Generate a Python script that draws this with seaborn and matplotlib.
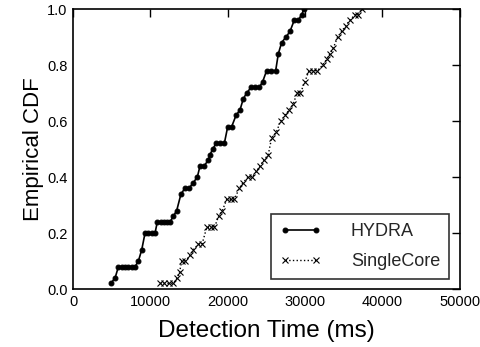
import matplotlib
matplotlib.use("Agg")
import matplotlib.pyplot as plt
import seaborn as sns
import pandas as pd

# detection times (ms) and empirical CDF values
hydra_time = [4870, 5430, 5860, 6290, 6720, 7150, 7580, 8010, 8440, 8870,
              9300, 9730, 10160, 10590, 10890, 11300, 11700, 12100, 12530, 12960,
              13390, 13950, 14470, 14990, 15540, 16060, 16410, 16930, 17480, 17700,
              18050, 18480, 19000, 19550, 19990, 20500, 21060, 21580, 22010, 22440,
              23000, 23510, 24070, 24500, 25020, 25580, 26190, 26530, 26960, 27520,
              28040, 28590, 29110, 29550, 29850]
hydra_cdf = [0.02, 0.04, 0.08, 0.08, 0.08, 0.08, 0.08, 0.08, 0.10, 0.14,
             0.20, 0.20, 0.20, 0.20, 0.24, 0.24, 0.24, 0.24, 0.24, 0.26,
             0.28, 0.34, 0.36, 0.36, 0.38, 0.40, 0.44, 0.44, 0.46, 0.48,
             0.50, 0.52, 0.52, 0.52, 0.58, 0.58, 0.62, 0.64, 0.68, 0.70,
             0.72, 0.72, 0.72, 0.74, 0.78, 0.78, 0.78, 0.84, 0.88, 0.90,
             0.92, 0.96, 0.96, 0.98, 1.00]

single_time = [11240, 11800, 12400, 12960, 13480, 13760, 14040, 14530, 15120, 15540,
               16190, 16670, 17270, 17790, 18280, 18800, 19290, 19860, 20370, 20840,
               21490, 21960, 22650, 23170, 23680, 24200, 24640, 25230, 25670, 26270,
               26830, 27390, 27950, 28460, 28940, 29390, 29970, 30490, 31050, 31590,
               32260, 32780, 33200, 33630, 34200, 34720, 35230, 35790, 36430, 36860,
               37300]
single_cdf = [0.02, 0.02, 0.02, 0.02, 0.04, 0.06, 0.10, 0.10, 0.12, 0.14,
              0.16, 0.16, 0.22, 0.22, 0.22, 0.26, 0.28, 0.32, 0.32, 0.32,
              0.36, 0.38, 0.40, 0.40, 0.42, 0.44, 0.46, 0.48, 0.54, 0.56,
              0.60, 0.62, 0.64, 0.66, 0.70, 0.70, 0.74, 0.78, 0.78, 0.78,
              0.80, 0.82, 0.84, 0.86, 0.90, 0.92, 0.94, 0.96, 0.98, 0.98,
              1.00]

sns.set_style("white")
plt.rcParams["font.family"] = ["Liberation Sans", "DejaVu Sans"]

hydra = pd.DataFrame({"time": hydra_time, "cdf": hydra_cdf})
single = pd.DataFrame({"time": single_time, "cdf": single_cdf})

fig = plt.figure(figsize=(4.81, 3.47), dpi=100)
ax = fig.add_axes([0.152, 0.167, 0.804, 0.807])

sns.lineplot(data=hydra, x="time", y="cdf", ax=ax, color="black", linewidth=1.2,
             marker="o", markersize=3.5, markeredgecolor="black",
             estimator=None, sort=False, label="HYDRA")
sns.lineplot(data=single, x="time", y="cdf", ax=ax, color="black", linewidth=1.0,
             linestyle=":", marker="x", markersize=4, markeredgewidth=0.8,
             markeredgecolor="black", estimator=None, sort=False, label="SingleCore")

ax.set_xlim(0, 50000)
ax.set_ylim(0, 1.0)
ax.set_xticks([0, 10000, 20000, 30000, 40000, 50000])
ax.set_yticks([0.0, 0.2, 0.4, 0.6, 0.8, 1.0])
ax.set_yticklabels(["0.0", "0.2", "0.4", "0.6", "0.8", "1.0"])
ax.tick_params(direction="in", length=6, width=1, top=True, right=True,
               labelsize=10.5, colors="black", pad=4)
for s in ax.spines.values():
    s.set_color("black")
    s.set_linewidth(1.2)

ax.set_xlabel("Detection Time (ms)", fontsize=17.5, color="black", labelpad=8)
ax.set_ylabel("Empirical CDF", fontsize=16, color="black", labelpad=2)

leg = ax.legend(loc="lower right", bbox_to_anchor=(0.972, 0.035), fontsize=13,
                frameon=True, fancybox=False, handlelength=2.3, numpoints=2,
                borderpad=0.5, labelspacing=0.73, handletextpad=1.64,
                borderaxespad=0)
leg.get_frame().set_edgecolor("black")
leg.get_frame().set_linewidth(1.2)

fig.savefig("out.png", dpi=100)
